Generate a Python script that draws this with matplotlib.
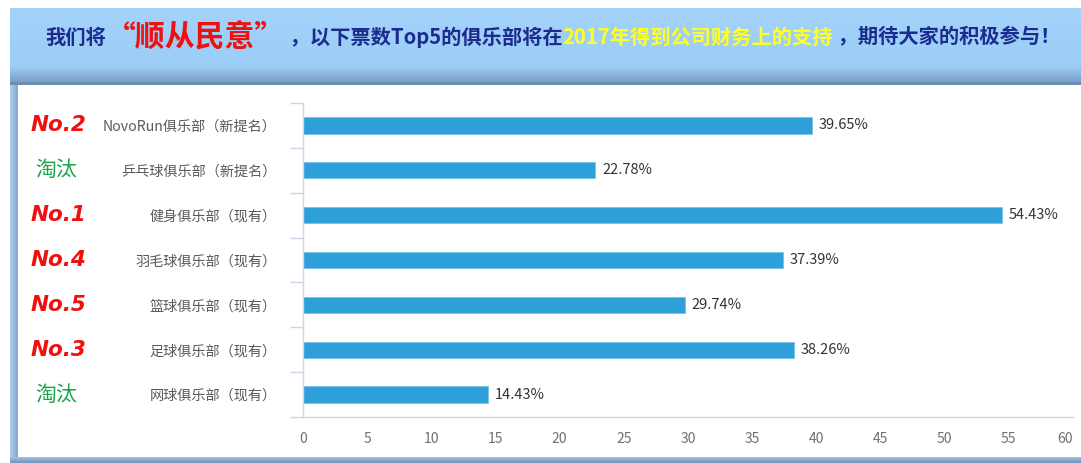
import numpy as np
import matplotlib
matplotlib.use('Agg')
import matplotlib.pyplot as plt
from matplotlib.patches import Rectangle
from matplotlib.colors import to_rgb
from matplotlib.transforms import blended_transform_factory

plt.rcParams['font.family'] = ['Noto Sans CJK SC', 'DejaVu Sans']

# --- data ---
clubs = ['NovoRun俱乐部（新提名）', '乒乓球俱乐部（新提名）', '健身俱乐部（现有）',
         '羽毛球俱乐部（现有）', '篮球俱乐部（现有）', '足球俱乐部（现有）', '网球俱乐部（现有）']
votes = [39.65, 22.78, 54.43, 37.39, 29.74, 38.26, 14.43]
ranks = ['No.2', '淘汰', 'No.1', 'No.4', 'No.5', 'No.3', '淘汰']
x_ticks = [0, 5, 10, 15, 20, 25, 30, 35, 40, 45, 50, 55, 60]

NAVY = '#1c2b8e'
RED = '#f01010'
YELLOW = '#ffff22'
title_parts = [
    ('我们将', NAVY, 14.6),
    ('“顺从民意”', RED, 21.5),
    (' ，以下票数Top5的俱乐部将在', NAVY, 14.6),
    ('2017年得到公司财务上的支持', YELLOW, 14.6),
    (' ，期待大家的积极参与！', NAVY, 14.6),
]

W, H = 1081, 463
fig = plt.figure(figsize=(W / 100, H / 100), dpi=100)
fig.patch.set_facecolor('white')

# background frame drawn in pixel coords
bg = fig.add_axes([0, 0, 1, 1], zorder=-1)
bg.set_xlim(0, W)
bg.set_ylim(H, 0)
bg.axis('off')


def vgrad(c1, c2, n):
    a, b = np.array(to_rgb(c1)), np.array(to_rgb(c2))
    t = np.linspace(0, 1, n)[:, None]
    return a * (1 - t) + b * t


# header band with darker shading at the bottom
rows = np.vstack([vgrad('#a3d3fb', '#9ccdf6', 58),
                  vgrad('#9ccdf6', '#7a9fc6', 16),
                  vgrad('#6a8db3', '#6a8db3', 3)])
bg.imshow(rows[:, None, :], extent=[10, W, 85, 8], aspect='auto', zorder=0)
# left strip
cols = vgrad('#accfee', '#86a8cc', 8)
bg.imshow(cols[None, :, :], extent=[10, 18, 457, 85], aspect='auto', zorder=0)
# bottom strip
bot = vgrad('#9fbddb', '#7697bd', 6)
bg.imshow(bot[:, None, :], extent=[10, W, 463, 457], aspect='auto', zorder=0)
bg.add_patch(Rectangle((18, 86), W - 18, 371, facecolor='white', edgecolor='none', zorder=1))

# --- chart ---
ax = fig.add_axes([303 / W, 1 - 417 / H, 770 / W, 314 / H])
ax.set_facecolor('none')
y = np.arange(len(clubs))
ax.barh(y, votes, height=0.36, color='#2f9fda', edgecolor='#78c2ea', linewidth=0.6, zorder=2)
ax.set_xlim(0, 60)
ax.set_ylim(len(clubs) - 0.5, -0.5)

ax.set_yticks(y)
ax.set_yticklabels(clubs, fontsize=10.2, color='#5a5a5a')
ax.set_yticks(np.arange(len(clubs) + 1) - 0.5, minor=True)
ax.tick_params(axis='y', which='major', length=0, pad=19)
ax.tick_params(axis='y', which='minor', length=9.5, width=1, color='#ccd6eb')

ax.set_xticks(x_ticks)
ax.set_xticklabels([str(v) for v in x_ticks], fontsize=10, color='#707070')
ax.tick_params(axis='x', length=0, pad=11)
ax.get_xticklabels()[-1].set_horizontalalignment('right')

for s in ['top', 'right']:
    ax.spines[s].set_visible(False)
for s in ['left', 'bottom']:
    ax.spines[s].set_color('#ccd6eb')
    ax.spines[s].set_linewidth(1)

for yi, v in zip(y, votes):
    ax.annotate(f'{v:.2f}%', (v, yi), xytext=(5, 0), textcoords='offset points',
                va='center', ha='left', fontsize=10.5, color='#333333')

# rank badges on the left
tr = blended_transform_factory(fig.transFigure, ax.transData)
for yi, r in zip(y, ranks):
    if r.startswith('No'):
        ax.text(31 / W, yi, r, transform=tr, ha='left', va='center', fontsize=15.5,
                fontweight='bold', fontstyle='italic', family='DejaVu Sans', color=RED,
                clip_on=False)
    else:
        ax.text(35 / W, yi, r, transform=tr, ha='left', va='center', fontsize=15,
                color='#1aa34a', clip_on=False)

# --- title built from coloured pieces ---
fig.canvas.draw()
renderer = fig.canvas.get_renderer()
x0 = 45
ty = 1 - 37 / H
for txt, col, fs in title_parts:
    t = fig.text(x0 / W, ty, txt, color=col, fontsize=fs, fontweight='bold',
                 ha='left', va='center')
    x0 += t.get_window_extent(renderer).width

fig.savefig('out.png', dpi=100)
